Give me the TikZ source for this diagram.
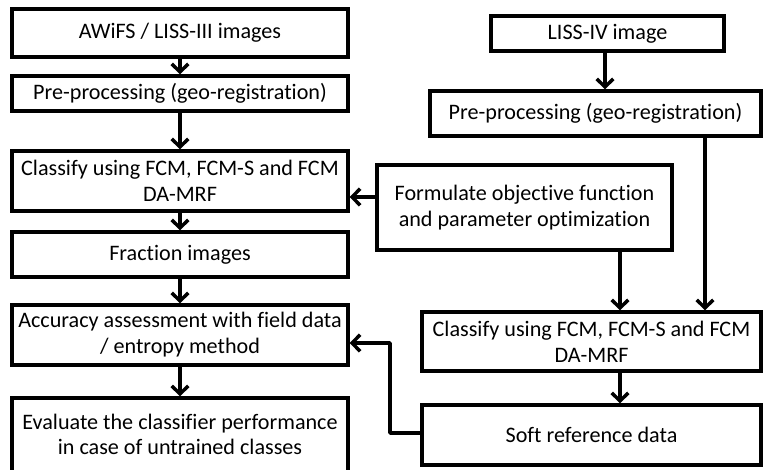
\documentclass[tikz,border=0pt]{standalone}
\usepackage{fontspec}
\setmainfont{Carlito}[Ligatures={NoCommon}]
\usetikzlibrary{arrows.meta,positioning}

\tikzset{
  boxstyle/.style={draw=black, line width=2.6pt, fill=white, inner sep=0pt,
    align=center, font=\fontsize{16.6}{19.5}\selectfont},
  link/.style={line width=2.6pt, line join=round,
    -{Straight Barb[length=6pt,width=12.5pt,line width=2.6pt]}},
}

% box between two corners given in pixel units
\newcommand{\pbox}[6]{%
  \node[boxstyle, minimum width={(#4-#2)*0.75pt}, minimum height={(#5-#3)*0.75pt}]
    (#1) at ({(#2+#4)/2},{(#3+#5)/2}) {#6};}

\begin{document}
\begin{tikzpicture}[x=0.75pt,y=-0.75pt]
\useasboundingbox (0,0) rectangle (770,469);
\fill[white] (0,0) rectangle (770,469);

% left column
\pbox{aw}{12}{9}{348}{57}{AWiFS / LISS-III images}
\pbox{preL}{12}{76}{348}{111}{Pre-processing (geo-registration)}
\pbox{clsL}{12}{151}{348}{211}{Classify using FCM, FCM-S and FCM\\DA-MRF}
\pbox{frac}{12}{232}{348}{277}{Fraction images}
\pbox{acc}{12}{305}{348}{365}{Accuracy assessment with field data\\/ entropy method}
\pbox{eval}{12}{398}{348}{478}{\raisebox{5.5pt}{\shortstack{Evaluate the classifier performance\\[2pt]in case of untrained classes}}}

% right column
\pbox{liss}{491}{16}{724}{51}{LISS-IV image}
\pbox{preR}{430}{91}{761}{136}{Pre-processing (geo-registration)}
\pbox{form}{377}{165}{672}{250}{Formulate objective function\\and parameter optimization}
\pbox{clsR}{422}{312}{761}{371}{Classify using FCM, FCM-S and FCM\\DA-MRF}
\pbox{soft}{422}{405}{761}{465}{Soft reference data}

% guide coordinates for the connector tracks
\coordinate (xa) at (705,0);
\coordinate (xb) at (620,0);
\coordinate (xc) at (390,0);
\coordinate (xd) at (605,0);
\coordinate (ya) at (0,197);
\coordinate (yb) at (0,343);
\coordinate (yc) at (0,433);

% left chain
\draw[link] (aw) -- (preL);
\draw[link] (preL) -- (clsL);
\draw[link] (clsL) -- (frac);
\draw[link] (frac) -- (acc);
\draw[link] (acc) -- (eval);

% right chain
\draw[link] (liss.south -| xd) -- (preR.north -| xd);
\draw[link] (preR.south -| xa) -- (clsR.north -| xa);
\draw[link] (form.south -| xb) -- (clsR.north -| xb);
\draw[link] (clsR.south -| xb) -- (soft.north -| xb);

% feedback to the left column
\draw[link] (form.west |- ya) -- (clsL.east |- ya);
\draw[link] (soft.west |- yc) -- (xc |- yc) -- (xc |- yb) -- (acc.east |- yb);
\end{tikzpicture}
\end{document}
